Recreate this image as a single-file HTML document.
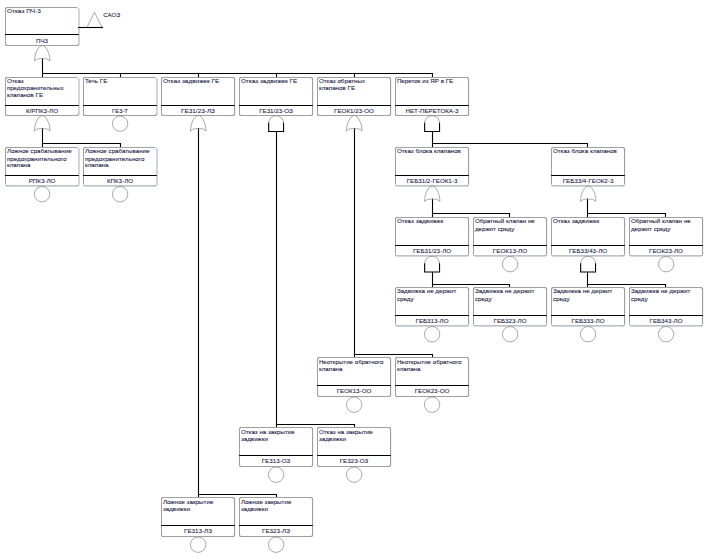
<!DOCTYPE html>
<html lang="ru"><head><meta charset="utf-8"><title>Дерево отказов ПЧ-3</title>
<style>
html,body{margin:0;padding:0;background:#fff;}
body{width:709px;height:558px;overflow:hidden;}
svg{display:block;}
.k{stroke:#000;stroke-width:1.1;fill:none;}
.t{stroke:#8c8c8c;stroke-width:0.75;fill:none;}
.b{stroke:#a0a0a3;stroke-width:1;fill:none;}
.s{fill:#cfd6dc;}
.x{font-family:"Liberation Sans",Arial,sans-serif;font-size:6.22px;fill:#101040;stroke:#101040;stroke-width:0.07px;}
.m{text-anchor:middle;}
</style></head><body>
<svg width="709" height="558" viewBox="0 0 709 558">
<path d="M42.5 58.1V77.5" class="k"/>
<path d="M41.95 73.5H433.05" class="k"/>
<path d="M120.5 73.5V77.5" class="k"/>
<path d="M198.5 73.5V77.5" class="k"/>
<path d="M276.5 73.5V77.5" class="k"/>
<path d="M354.5 73.5V77.5" class="k"/>
<path d="M432.5 73.5V77.5" class="k"/>
<path d="M42.5 128.1V147.5" class="k"/>
<path d="M41.95 143.5H121.05" class="k"/>
<path d="M120.5 143.5V147.5" class="k"/>
<path d="M198.5 128.1V497.5" class="k"/>
<path d="M197.95 494.5H277.05" class="k"/>
<path d="M276.5 494.5V497.5" class="k"/>
<path d="M276.5 131.5V427.5" class="k"/>
<path d="M275.95 424.5H355.05" class="k"/>
<path d="M354.5 424.5V427.5" class="k"/>
<path d="M354.5 128.1V357.5" class="k"/>
<path d="M353.95 354.5H433.05" class="k"/>
<path d="M432.5 354.5V357.5" class="k"/>
<path d="M432.5 131.5V147.5" class="k"/>
<path d="M431.95 143.5H588.05" class="k"/>
<path d="M587.5 143.5V147.5" class="k"/>
<path d="M432.5 198.6V217.5" class="k"/>
<path d="M431.95 213.5H510.05" class="k"/>
<path d="M509.5 213.5V217.5" class="k"/>
<path d="M587.5 198.6V217.5" class="k"/>
<path d="M586.95 213.5H666.05" class="k"/>
<path d="M665.5 213.5V217.5" class="k"/>
<path d="M432.5 272V287.5" class="k"/>
<path d="M431.95 284.5H510.05" class="k"/>
<path d="M509.5 284.5V287.5" class="k"/>
<path d="M587.5 272V287.5" class="k"/>
<path d="M586.95 284.5H666.05" class="k"/>
<path d="M665.5 284.5V287.5" class="k"/>
<rect x="77.95" y="8.7" width="2" height="35.8" class="s"/>
<path d="M5.5 44V9Q5.5 7.5 7 7.5H77" class="b"/>
<path d="M78.5 44Q78.5 45.5 77 45.5H7Q5.5 45.5 5.5 44" class="b"/>
<circle cx="6" cy="8" r="0.55" fill="#5a3a50" opacity="0.7"/>
<circle cx="78" cy="8" r="0.55" fill="#5a3a50" opacity="0.7"/>
<circle cx="6" cy="45" r="0.55" fill="#5a3a50" opacity="0.7"/>
<circle cx="78" cy="45" r="0.55" fill="#5a3a50" opacity="0.7"/>
<path d="M5.1 34.5H78.8" class="k"/>
<text x="6.9" y="12.95" class="x" textLength="34.0" lengthAdjust="spacingAndGlyphs">Отказ ПЧ-3</text>
<text x="42" y="42.9" class="x m">ПЧ3</text>
<path d="M34.55 61C34.55 52.44 38.86 45.5 42.25 45.5C45.64 45.5 49.95 52.44 49.95 61C47.45 58.5 45.25 58.6 42.25 58.6C39.25 58.6 37.05 58.5 34.55 61Z" class="t"/>
<rect x="77.95" y="78.7" width="2" height="35.8" class="s"/>
<path d="M5.5 114V79Q5.5 77.5 7 77.5H77" class="b"/>
<path d="M78.5 114Q78.5 115.5 77 115.5H7Q5.5 115.5 5.5 114" class="b"/>
<circle cx="6" cy="78" r="0.55" fill="#5a3a50" opacity="0.7"/>
<circle cx="78" cy="78" r="0.55" fill="#5a3a50" opacity="0.7"/>
<circle cx="6" cy="115" r="0.55" fill="#5a3a50" opacity="0.7"/>
<circle cx="78" cy="115" r="0.55" fill="#5a3a50" opacity="0.7"/>
<path d="M5.1 105.5H78.8" class="k"/>
<text x="6.9" y="83" class="x">Отказ</text>
<text x="6.9" y="89.8" class="x" textLength="56.9" lengthAdjust="spacingAndGlyphs">предохранительных</text>
<text x="6.9" y="96.9" class="x">клапанов ГЕ</text>
<text x="42" y="112.8" class="x m">К/РПК3-ЛО</text>
<path d="M34.55 131C34.55 122.44 38.86 115.5 42.25 115.5C45.64 115.5 49.95 122.44 49.95 131C47.45 128.5 45.25 128.6 42.25 128.6C39.25 128.6 37.05 128.5 34.55 131Z" class="t"/>
<rect x="155.95" y="78.7" width="2" height="35.8" class="s"/>
<path d="M83.5 114V79Q83.5 77.5 85 77.5H155" class="b"/>
<path d="M156.5 114Q156.5 115.5 155 115.5H85Q83.5 115.5 83.5 114" class="b"/>
<circle cx="84" cy="78" r="0.55" fill="#5a3a50" opacity="0.7"/>
<circle cx="156" cy="78" r="0.55" fill="#5a3a50" opacity="0.7"/>
<circle cx="84" cy="115" r="0.55" fill="#5a3a50" opacity="0.7"/>
<circle cx="156" cy="115" r="0.55" fill="#5a3a50" opacity="0.7"/>
<path d="M83.1 105.5H156.8" class="k"/>
<text x="84.9" y="83" class="x">Течь ГЕ</text>
<text x="120" y="112.8" class="x m" textLength="15.8" lengthAdjust="spacingAndGlyphs">ГЕ3-Т</text>
<circle cx="120.1" cy="123.7" r="7.7" class="t"/>
<rect x="234.8" y="79" width="0.7" height="36" class="s" opacity="0.6"/>
<path d="M161.5 114V79Q161.5 77.5 163 77.5H233" class="b"/>
<path d="M233 77.5Q234.5 77.5 234.5 79V114" class="b"/>
<path d="M234.5 114Q234.5 115.5 233 115.5H163Q161.5 115.5 161.5 114" class="b"/>
<circle cx="162" cy="78" r="0.55" fill="#5a3a50" opacity="0.7"/>
<circle cx="234" cy="78" r="0.55" fill="#5a3a50" opacity="0.7"/>
<circle cx="162" cy="115" r="0.55" fill="#5a3a50" opacity="0.7"/>
<circle cx="234" cy="115" r="0.55" fill="#5a3a50" opacity="0.7"/>
<path d="M161.1 105.5H234.8" class="k"/>
<text x="162.9" y="83" class="x" textLength="56.4" lengthAdjust="spacingAndGlyphs">Отказ задвижек ГЕ</text>
<text x="198" y="112.8" class="x m" textLength="33.9" lengthAdjust="spacingAndGlyphs">ГЕ31/23-ЛЗ</text>
<path d="M190.55 131C190.55 122.44 194.86 115.5 198.25 115.5C201.64 115.5 205.95 122.44 205.95 131C203.45 128.5 201.25 128.6 198.25 128.6C195.25 128.6 193.05 128.5 190.55 131Z" class="t"/>
<rect x="312.8" y="79" width="0.7" height="36" class="s" opacity="0.6"/>
<path d="M239.5 114V79Q239.5 77.5 241 77.5H311" class="b"/>
<path d="M311 77.5Q312.5 77.5 312.5 79V114" class="b"/>
<path d="M312.5 114Q312.5 115.5 311 115.5H241Q239.5 115.5 239.5 114" class="b"/>
<circle cx="240" cy="78" r="0.55" fill="#5a3a50" opacity="0.7"/>
<circle cx="312" cy="78" r="0.55" fill="#5a3a50" opacity="0.7"/>
<circle cx="240" cy="115" r="0.55" fill="#5a3a50" opacity="0.7"/>
<circle cx="312" cy="115" r="0.55" fill="#5a3a50" opacity="0.7"/>
<path d="M239.1 105.5H312.8" class="k"/>
<text x="240.9" y="83" class="x" textLength="56.4" lengthAdjust="spacingAndGlyphs">Отказ задвижек ГЕ</text>
<text x="276" y="112.8" class="x m">ГЕ31/23-ОЗ</text>
<path d="M268.65 123.1A7.45 7.4 0 0 1 283.55 123.1" class="t"/>
<path d="M268.65 122.7V131.5H283.55V122.7" class="k"/>
<rect x="390.8" y="79" width="0.7" height="36" class="s" opacity="0.6"/>
<path d="M317.5 114V79Q317.5 77.5 319 77.5H389" class="b"/>
<path d="M389 77.5Q390.5 77.5 390.5 79V114" class="b"/>
<path d="M390.5 114Q390.5 115.5 389 115.5H319Q317.5 115.5 317.5 114" class="b"/>
<circle cx="318" cy="78" r="0.55" fill="#5a3a50" opacity="0.7"/>
<circle cx="390" cy="78" r="0.55" fill="#5a3a50" opacity="0.7"/>
<circle cx="318" cy="115" r="0.55" fill="#5a3a50" opacity="0.7"/>
<circle cx="390" cy="115" r="0.55" fill="#5a3a50" opacity="0.7"/>
<path d="M317.1 105.5H390.8" class="k"/>
<text x="318.9" y="83" class="x">Отказ обратных</text>
<text x="318.9" y="89.8" class="x">клапанов ГЕ</text>
<text x="354" y="112.8" class="x m">ГЕОК1/23-ОО</text>
<path d="M346.55 131C346.55 122.44 350.86 115.5 354.25 115.5C357.64 115.5 361.95 122.44 361.95 131C359.45 128.5 357.25 128.6 354.25 128.6C351.25 128.6 349.05 128.5 346.55 131Z" class="t"/>
<rect x="468.8" y="79" width="0.7" height="36" class="s" opacity="0.6"/>
<path d="M395.5 114V79Q395.5 77.5 397 77.5H467" class="b"/>
<path d="M467 77.5Q468.5 77.5 468.5 79V114" class="b"/>
<path d="M468.5 114Q468.5 115.5 467 115.5H397Q395.5 115.5 395.5 114" class="b"/>
<circle cx="396" cy="78" r="0.55" fill="#5a3a50" opacity="0.7"/>
<circle cx="468" cy="78" r="0.55" fill="#5a3a50" opacity="0.7"/>
<circle cx="396" cy="115" r="0.55" fill="#5a3a50" opacity="0.7"/>
<circle cx="468" cy="115" r="0.55" fill="#5a3a50" opacity="0.7"/>
<path d="M395.1 105.5H468.8" class="k"/>
<text x="396.9" y="83" class="x">Переток из ЯР в ГЕ</text>
<text x="432" y="112.8" class="x m">НЕТ-ПЕРЕТОКА-3</text>
<path d="M424.65 123.1A7.45 7.4 0 0 1 439.55 123.1" class="t"/>
<path d="M424.65 122.7V131.5H439.55V122.7" class="k"/>
<rect x="77.95" y="148.7" width="2" height="36.3" class="s"/>
<rect x="6.5" y="185.05" width="71.4" height="1.9" class="s"/>
<rect x="6.5" y="185.05" width="71.4" height="0.9" fill="#b4bbc2" opacity="0.8"/>
<path d="M5.5 184.5V149Q5.5 147.5 7 147.5H77" class="b"/>
<circle cx="6" cy="148" r="0.55" fill="#5a3a50" opacity="0.7"/>
<circle cx="78" cy="148" r="0.55" fill="#5a3a50" opacity="0.7"/>
<circle cx="6" cy="185.5" r="0.55" fill="#5a3a50" opacity="0.7"/>
<circle cx="78" cy="185.5" r="0.55" fill="#5a3a50" opacity="0.7"/>
<path d="M5.1 175.5H78.8" class="k"/>
<text x="6.9" y="152.9" class="x" textLength="64.7" lengthAdjust="spacingAndGlyphs">Ложное срабатывание</text>
<text x="6.9" y="160.9" class="x">предохранительного</text>
<text x="6.9" y="166.9" class="x">клапана</text>
<text x="42" y="182.6" class="x m">РПК3-ЛО</text>
<circle cx="42.1" cy="194.2" r="7.7" class="t"/>
<rect x="155.95" y="148.7" width="2" height="36.3" class="s"/>
<rect x="84.5" y="185.05" width="71.4" height="1.9" class="s"/>
<rect x="84.5" y="185.05" width="71.4" height="0.9" fill="#b4bbc2" opacity="0.8"/>
<path d="M83.5 184.5V149Q83.5 147.5 85 147.5H155" class="b"/>
<circle cx="84" cy="148" r="0.55" fill="#5a3a50" opacity="0.7"/>
<circle cx="156" cy="148" r="0.55" fill="#5a3a50" opacity="0.7"/>
<circle cx="84" cy="185.5" r="0.55" fill="#5a3a50" opacity="0.7"/>
<circle cx="156" cy="185.5" r="0.55" fill="#5a3a50" opacity="0.7"/>
<path d="M83.1 175.5H156.8" class="k"/>
<text x="84.9" y="152.9" class="x" textLength="64.7" lengthAdjust="spacingAndGlyphs">Ложное срабатывание</text>
<text x="84.9" y="160.9" class="x">предохранительного</text>
<text x="84.9" y="166.9" class="x">клапана</text>
<text x="120" y="182.6" class="x m">КПК3-ЛО</text>
<circle cx="120.1" cy="194.2" r="7.7" class="t"/>
<rect x="468.8" y="149" width="0.7" height="36.5" class="s" opacity="0.6"/>
<rect x="396.5" y="185.05" width="71.4" height="1.9" class="s"/>
<rect x="396.5" y="185.05" width="71.4" height="0.9" fill="#b4bbc2" opacity="0.8"/>
<path d="M395.5 184.5V149Q395.5 147.5 397 147.5H467" class="b"/>
<path d="M467 147.5Q468.5 147.5 468.5 149V184.5" class="b"/>
<circle cx="396" cy="148" r="0.55" fill="#5a3a50" opacity="0.7"/>
<circle cx="468" cy="148" r="0.55" fill="#5a3a50" opacity="0.7"/>
<circle cx="396" cy="185.5" r="0.55" fill="#5a3a50" opacity="0.7"/>
<circle cx="468" cy="185.5" r="0.55" fill="#5a3a50" opacity="0.7"/>
<path d="M395.1 175.5H468.8" class="k"/>
<text x="396.9" y="152.9" class="x">Отказ блока клапанов</text>
<text x="432" y="182.6" class="x m">ГЕБ31/2-ГЕОК1-3</text>
<path d="M424.55 201.5C424.55 192.94 428.86 186 432.25 186C435.64 186 439.95 192.94 439.95 201.5C437.45 199 435.25 199.1 432.25 199.1C429.25 199.1 427.05 199 424.55 201.5Z" class="t"/>
<rect x="624.8" y="149" width="0.7" height="36.5" class="s" opacity="0.6"/>
<rect x="552.5" y="185.05" width="71.4" height="1.9" class="s"/>
<rect x="552.5" y="185.05" width="71.4" height="0.9" fill="#b4bbc2" opacity="0.8"/>
<path d="M551.5 184.5V149Q551.5 147.5 553 147.5H623" class="b"/>
<path d="M623 147.5Q624.5 147.5 624.5 149V184.5" class="b"/>
<circle cx="552" cy="148" r="0.55" fill="#5a3a50" opacity="0.7"/>
<circle cx="624" cy="148" r="0.55" fill="#5a3a50" opacity="0.7"/>
<circle cx="552" cy="185.5" r="0.55" fill="#5a3a50" opacity="0.7"/>
<circle cx="624" cy="185.5" r="0.55" fill="#5a3a50" opacity="0.7"/>
<path d="M551.1 175.5H624.8" class="k"/>
<text x="552.9" y="152.9" class="x">Отказ блока клапанов</text>
<text x="588" y="182.6" class="x m">ГЕБ33/4-ГЕОК2-3</text>
<path d="M580.55 201.5C580.55 192.94 584.86 186 588.25 186C591.64 186 595.95 192.94 595.95 201.5C593.45 199 591.25 199.1 588.25 199.1C585.25 199.1 583.05 199 580.55 201.5Z" class="t"/>
<rect x="468.8" y="219" width="0.7" height="36.5" class="s" opacity="0.6"/>
<rect x="396.5" y="255.05" width="71.4" height="1.9" class="s"/>
<rect x="396.5" y="255.05" width="71.4" height="0.9" fill="#b4bbc2" opacity="0.8"/>
<path d="M395.5 254.5V219Q395.5 217.5 397 217.5H467" class="b"/>
<path d="M467 217.5Q468.5 217.5 468.5 219V254.5" class="b"/>
<circle cx="396" cy="218" r="0.55" fill="#5a3a50" opacity="0.7"/>
<circle cx="468" cy="218" r="0.55" fill="#5a3a50" opacity="0.7"/>
<circle cx="396" cy="255.5" r="0.55" fill="#5a3a50" opacity="0.7"/>
<circle cx="468" cy="255.5" r="0.55" fill="#5a3a50" opacity="0.7"/>
<path d="M395.1 245.5H468.8" class="k"/>
<text x="396.9" y="223" class="x" textLength="46.3" lengthAdjust="spacingAndGlyphs">Отказ задвижек</text>
<text x="432" y="252.7" class="x m">ГЕБ31/23-ЛО</text>
<path d="M424.65 263.6A7.45 7.4 0 0 1 439.55 263.6" class="t"/>
<path d="M424.65 263.2V272H439.55V263.2" class="k"/>
<rect x="546.8" y="219" width="0.7" height="36.5" class="s" opacity="0.6"/>
<rect x="474.5" y="255.05" width="71.4" height="1.9" class="s"/>
<rect x="474.5" y="255.05" width="71.4" height="0.9" fill="#b4bbc2" opacity="0.8"/>
<path d="M473.5 254.5V219Q473.5 217.5 475 217.5H545" class="b"/>
<path d="M545 217.5Q546.5 217.5 546.5 219V254.5" class="b"/>
<circle cx="474" cy="218" r="0.55" fill="#5a3a50" opacity="0.7"/>
<circle cx="546" cy="218" r="0.55" fill="#5a3a50" opacity="0.7"/>
<circle cx="474" cy="255.5" r="0.55" fill="#5a3a50" opacity="0.7"/>
<circle cx="546" cy="255.5" r="0.55" fill="#5a3a50" opacity="0.7"/>
<path d="M473.1 245.5H546.8" class="k"/>
<text x="474.9" y="223" class="x">Обратный клапан не</text>
<text x="474.9" y="230.8" class="x">держит среду</text>
<text x="510" y="252.7" class="x m" textLength="34.3" lengthAdjust="spacingAndGlyphs">ГЕОК13-ЛО</text>
<circle cx="510.1" cy="264.2" r="7.7" class="t"/>
<rect x="624.8" y="219" width="0.7" height="36.5" class="s" opacity="0.6"/>
<rect x="552.5" y="255.05" width="71.4" height="1.9" class="s"/>
<rect x="552.5" y="255.05" width="71.4" height="0.9" fill="#b4bbc2" opacity="0.8"/>
<path d="M551.5 254.5V219Q551.5 217.5 553 217.5H623" class="b"/>
<path d="M623 217.5Q624.5 217.5 624.5 219V254.5" class="b"/>
<circle cx="552" cy="218" r="0.55" fill="#5a3a50" opacity="0.7"/>
<circle cx="624" cy="218" r="0.55" fill="#5a3a50" opacity="0.7"/>
<circle cx="552" cy="255.5" r="0.55" fill="#5a3a50" opacity="0.7"/>
<circle cx="624" cy="255.5" r="0.55" fill="#5a3a50" opacity="0.7"/>
<path d="M551.1 245.5H624.8" class="k"/>
<text x="552.9" y="223" class="x" textLength="46.3" lengthAdjust="spacingAndGlyphs">Отказ задвижек</text>
<text x="588" y="252.7" class="x m">ГЕБ33/43-ЛО</text>
<path d="M580.65 263.6A7.45 7.4 0 0 1 595.55 263.6" class="t"/>
<path d="M580.65 263.2V272H595.55V263.2" class="k"/>
<rect x="702.8" y="219" width="0.7" height="36.5" class="s" opacity="0.6"/>
<rect x="630.5" y="255.05" width="71.4" height="1.9" class="s"/>
<rect x="630.5" y="255.05" width="71.4" height="0.9" fill="#b4bbc2" opacity="0.8"/>
<path d="M629.5 254.5V219Q629.5 217.5 631 217.5H701" class="b"/>
<path d="M701 217.5Q702.5 217.5 702.5 219V254.5" class="b"/>
<circle cx="630" cy="218" r="0.55" fill="#5a3a50" opacity="0.7"/>
<circle cx="702" cy="218" r="0.55" fill="#5a3a50" opacity="0.7"/>
<circle cx="630" cy="255.5" r="0.55" fill="#5a3a50" opacity="0.7"/>
<circle cx="702" cy="255.5" r="0.55" fill="#5a3a50" opacity="0.7"/>
<path d="M629.1 245.5H702.8" class="k"/>
<text x="630.9" y="223" class="x">Обратный клапан не</text>
<text x="630.9" y="230.8" class="x">держит среду</text>
<text x="666" y="252.7" class="x m">ГЕОК23-ЛО</text>
<circle cx="666.1" cy="264.2" r="7.7" class="t"/>
<rect x="468.8" y="289" width="0.7" height="36.5" class="s" opacity="0.6"/>
<rect x="396.5" y="325.05" width="71.4" height="1.9" class="s"/>
<rect x="396.5" y="325.05" width="71.4" height="0.9" fill="#b4bbc2" opacity="0.8"/>
<path d="M395.5 324.5V289Q395.5 287.5 397 287.5H467" class="b"/>
<path d="M467 287.5Q468.5 287.5 468.5 289V324.5" class="b"/>
<circle cx="396" cy="288" r="0.55" fill="#5a3a50" opacity="0.7"/>
<circle cx="468" cy="288" r="0.55" fill="#5a3a50" opacity="0.7"/>
<circle cx="396" cy="325.5" r="0.55" fill="#5a3a50" opacity="0.7"/>
<circle cx="468" cy="325.5" r="0.55" fill="#5a3a50" opacity="0.7"/>
<path d="M395.1 315.5H468.8" class="k"/>
<text x="396.9" y="293" class="x">Задвижка не держит</text>
<text x="396.9" y="300.8" class="x">среду</text>
<text x="432" y="322.7" class="x m">ГЕБ313-ЛО</text>
<circle cx="432.1" cy="334.2" r="7.7" class="t"/>
<rect x="546.8" y="289" width="0.7" height="36.5" class="s" opacity="0.6"/>
<rect x="474.5" y="325.05" width="71.4" height="1.9" class="s"/>
<rect x="474.5" y="325.05" width="71.4" height="0.9" fill="#b4bbc2" opacity="0.8"/>
<path d="M473.5 324.5V289Q473.5 287.5 475 287.5H545" class="b"/>
<path d="M545 287.5Q546.5 287.5 546.5 289V324.5" class="b"/>
<circle cx="474" cy="288" r="0.55" fill="#5a3a50" opacity="0.7"/>
<circle cx="546" cy="288" r="0.55" fill="#5a3a50" opacity="0.7"/>
<circle cx="474" cy="325.5" r="0.55" fill="#5a3a50" opacity="0.7"/>
<circle cx="546" cy="325.5" r="0.55" fill="#5a3a50" opacity="0.7"/>
<path d="M473.1 315.5H546.8" class="k"/>
<text x="474.9" y="293" class="x">Задвижка не держит</text>
<text x="474.9" y="300.8" class="x">среду</text>
<text x="510" y="322.7" class="x m">ГЕБ323-ЛО</text>
<circle cx="510.1" cy="334.2" r="7.7" class="t"/>
<rect x="624.8" y="289" width="0.7" height="36.5" class="s" opacity="0.6"/>
<rect x="552.5" y="325.05" width="71.4" height="1.9" class="s"/>
<rect x="552.5" y="325.05" width="71.4" height="0.9" fill="#b4bbc2" opacity="0.8"/>
<path d="M551.5 324.5V289Q551.5 287.5 553 287.5H623" class="b"/>
<path d="M623 287.5Q624.5 287.5 624.5 289V324.5" class="b"/>
<circle cx="552" cy="288" r="0.55" fill="#5a3a50" opacity="0.7"/>
<circle cx="624" cy="288" r="0.55" fill="#5a3a50" opacity="0.7"/>
<circle cx="552" cy="325.5" r="0.55" fill="#5a3a50" opacity="0.7"/>
<circle cx="624" cy="325.5" r="0.55" fill="#5a3a50" opacity="0.7"/>
<path d="M551.1 315.5H624.8" class="k"/>
<text x="552.9" y="293" class="x">Задвижка не держит</text>
<text x="552.9" y="300.8" class="x">среду</text>
<text x="588" y="322.7" class="x m">ГЕБ333-ЛО</text>
<circle cx="588.1" cy="334.2" r="7.7" class="t"/>
<rect x="702.8" y="289" width="0.7" height="36.5" class="s" opacity="0.6"/>
<rect x="630.5" y="325.05" width="71.4" height="1.9" class="s"/>
<rect x="630.5" y="325.05" width="71.4" height="0.9" fill="#b4bbc2" opacity="0.8"/>
<path d="M629.5 324.5V289Q629.5 287.5 631 287.5H701" class="b"/>
<path d="M701 287.5Q702.5 287.5 702.5 289V324.5" class="b"/>
<circle cx="630" cy="288" r="0.55" fill="#5a3a50" opacity="0.7"/>
<circle cx="702" cy="288" r="0.55" fill="#5a3a50" opacity="0.7"/>
<circle cx="630" cy="325.5" r="0.55" fill="#5a3a50" opacity="0.7"/>
<circle cx="702" cy="325.5" r="0.55" fill="#5a3a50" opacity="0.7"/>
<path d="M629.1 315.5H702.8" class="k"/>
<text x="630.9" y="293" class="x">Задвижка не держит</text>
<text x="630.9" y="300.8" class="x">среду</text>
<text x="666" y="322.7" class="x m">ГЕБ343-ЛО</text>
<circle cx="666.1" cy="334.2" r="7.7" class="t"/>
<rect x="390.8" y="359" width="0.7" height="37" class="s" opacity="0.6"/>
<path d="M317.5 395V359Q317.5 357.5 319 357.5H389" class="b"/>
<path d="M389 357.5Q390.5 357.5 390.5 359V395" class="b"/>
<path d="M390.5 395Q390.5 396.5 389 396.5H319Q317.5 396.5 317.5 395" class="b"/>
<circle cx="318" cy="358" r="0.55" fill="#5a3a50" opacity="0.7"/>
<circle cx="390" cy="358" r="0.55" fill="#5a3a50" opacity="0.7"/>
<circle cx="318" cy="396" r="0.55" fill="#5a3a50" opacity="0.7"/>
<circle cx="390" cy="396" r="0.55" fill="#5a3a50" opacity="0.7"/>
<path d="M317.1 385.5H390.8" class="k"/>
<text x="318.9" y="363.9" class="x" textLength="64.6" lengthAdjust="spacingAndGlyphs">Неоткрытие обратного</text>
<text x="318.9" y="370.8" class="x">клапана</text>
<text x="354" y="392.7" class="x m">ГЕОК13-ОО</text>
<circle cx="354.1" cy="404.7" r="7.7" class="t"/>
<rect x="468.8" y="359" width="0.7" height="37" class="s" opacity="0.6"/>
<path d="M395.5 395V359Q395.5 357.5 397 357.5H467" class="b"/>
<path d="M467 357.5Q468.5 357.5 468.5 359V395" class="b"/>
<path d="M468.5 395Q468.5 396.5 467 396.5H397Q395.5 396.5 395.5 395" class="b"/>
<circle cx="396" cy="358" r="0.55" fill="#5a3a50" opacity="0.7"/>
<circle cx="468" cy="358" r="0.55" fill="#5a3a50" opacity="0.7"/>
<circle cx="396" cy="396" r="0.55" fill="#5a3a50" opacity="0.7"/>
<circle cx="468" cy="396" r="0.55" fill="#5a3a50" opacity="0.7"/>
<path d="M395.1 385.5H468.8" class="k"/>
<text x="396.9" y="363.9" class="x" textLength="64.6" lengthAdjust="spacingAndGlyphs">Неоткрытие обратного</text>
<text x="396.9" y="370.8" class="x">клапана</text>
<text x="432" y="392.7" class="x m">ГЕОК23-ОО</text>
<circle cx="432.1" cy="404.7" r="7.7" class="t"/>
<rect x="312.8" y="429" width="0.7" height="37" class="s" opacity="0.6"/>
<path d="M239.5 465V429Q239.5 427.5 241 427.5H311" class="b"/>
<path d="M311 427.5Q312.5 427.5 312.5 429V465" class="b"/>
<path d="M312.5 465Q312.5 466.5 311 466.5H241Q239.5 466.5 239.5 465" class="b"/>
<circle cx="240" cy="428" r="0.55" fill="#5a3a50" opacity="0.7"/>
<circle cx="312" cy="428" r="0.55" fill="#5a3a50" opacity="0.7"/>
<circle cx="240" cy="466" r="0.55" fill="#5a3a50" opacity="0.7"/>
<circle cx="312" cy="466" r="0.55" fill="#5a3a50" opacity="0.7"/>
<path d="M239.1 455.5H312.8" class="k"/>
<text x="240.9" y="433.9" class="x">Отказ на закрытие</text>
<text x="240.9" y="440.8" class="x">задвижки</text>
<text x="276" y="462.7" class="x m">ГЕ313-ОЗ</text>
<circle cx="276.1" cy="474.7" r="7.7" class="t"/>
<rect x="390.8" y="429" width="0.7" height="37" class="s" opacity="0.6"/>
<path d="M317.5 465V429Q317.5 427.5 319 427.5H389" class="b"/>
<path d="M389 427.5Q390.5 427.5 390.5 429V465" class="b"/>
<path d="M390.5 465Q390.5 466.5 389 466.5H319Q317.5 466.5 317.5 465" class="b"/>
<circle cx="318" cy="428" r="0.55" fill="#5a3a50" opacity="0.7"/>
<circle cx="390" cy="428" r="0.55" fill="#5a3a50" opacity="0.7"/>
<circle cx="318" cy="466" r="0.55" fill="#5a3a50" opacity="0.7"/>
<circle cx="390" cy="466" r="0.55" fill="#5a3a50" opacity="0.7"/>
<path d="M317.1 455.5H390.8" class="k"/>
<text x="318.9" y="433.9" class="x">Отказ на закрытие</text>
<text x="318.9" y="440.8" class="x">задвижки</text>
<text x="354" y="462.7" class="x m">ГЕ323-ОЗ</text>
<circle cx="354.1" cy="474.7" r="7.7" class="t"/>
<rect x="234.8" y="499" width="0.7" height="37" class="s" opacity="0.6"/>
<path d="M161.5 535V499Q161.5 497.5 163 497.5H233" class="b"/>
<path d="M233 497.5Q234.5 497.5 234.5 499V535" class="b"/>
<path d="M234.5 535Q234.5 536.5 233 536.5H163Q161.5 536.5 161.5 535" class="b"/>
<circle cx="162" cy="498" r="0.55" fill="#5a3a50" opacity="0.7"/>
<circle cx="234" cy="498" r="0.55" fill="#5a3a50" opacity="0.7"/>
<circle cx="162" cy="536" r="0.55" fill="#5a3a50" opacity="0.7"/>
<circle cx="234" cy="536" r="0.55" fill="#5a3a50" opacity="0.7"/>
<path d="M161.1 525.5H234.8" class="k"/>
<text x="162.9" y="503.8" class="x">Ложное закрытие</text>
<text x="162.9" y="510.7" class="x">задвижки</text>
<text x="198" y="532.7" class="x m">ГЕ313-ЛЗ</text>
<circle cx="198.1" cy="544.7" r="7.7" class="t"/>
<rect x="312.8" y="499" width="0.7" height="37" class="s" opacity="0.6"/>
<path d="M239.5 535V499Q239.5 497.5 241 497.5H311" class="b"/>
<path d="M311 497.5Q312.5 497.5 312.5 499V535" class="b"/>
<path d="M312.5 535Q312.5 536.5 311 536.5H241Q239.5 536.5 239.5 535" class="b"/>
<circle cx="240" cy="498" r="0.55" fill="#5a3a50" opacity="0.7"/>
<circle cx="312" cy="498" r="0.55" fill="#5a3a50" opacity="0.7"/>
<circle cx="240" cy="536" r="0.55" fill="#5a3a50" opacity="0.7"/>
<circle cx="312" cy="536" r="0.55" fill="#5a3a50" opacity="0.7"/>
<path d="M239.1 525.5H312.8" class="k"/>
<text x="240.9" y="503.8" class="x">Ложное закрытие</text>
<text x="240.9" y="510.7" class="x">задвижки</text>
<text x="276" y="532.7" class="x m">ГЕ323-ЛЗ</text>
<circle cx="276.1" cy="544.7" r="7.7" class="t"/>
<path d="M87 27.4L94.5 12.2L102 27.4" class="t"/>
<path d="M78 27.5H102.9" class="k"/>
<text x="103.2" y="16.9" class="x">САОЗ</text>
</svg>
</body></html>
